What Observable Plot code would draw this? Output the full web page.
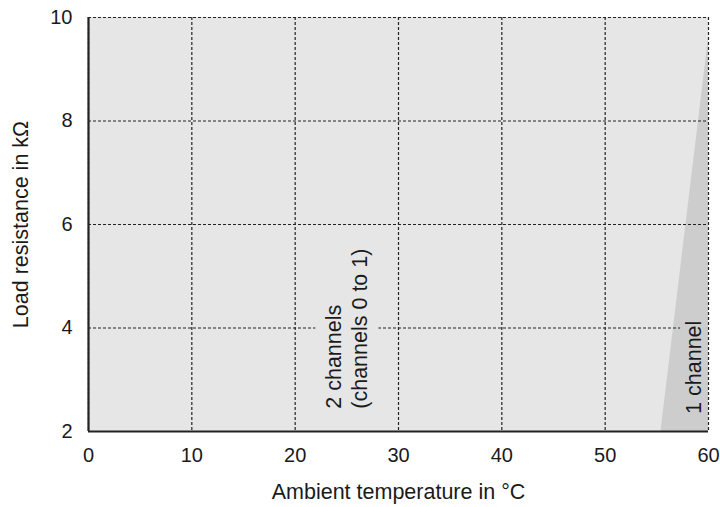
<!DOCTYPE html>
<html>
<head>
<meta charset="utf-8">
<script src="https://cdn.jsdelivr.net/npm/d3@7"></script>
<script src="https://cdn.jsdelivr.net/npm/@observablehq/plot@0.6"></script>
<style>
  html, body { margin: 0; padding: 0; background: #fff; }
  svg { font-family: "Liberation Sans", Arial, sans-serif; }
</style>
</head>
<body>
<div id="chart"></div>
<script>
const xTicks = [0, 10, 20, 30, 40, 50, 60];
const yTicks = [2, 4, 6, 8, 10];
const xLabel = "Ambient temperature in °C";
const yLabel = "Load resistance in kΩ";

// Operating region for 2 channels (whole plot area)
const twoChannelRegion = [{x1: 0, x2: 60, y1: 2, y2: 10}];
// Boundary of the 1-channel-only region (temperature, resistance)
const oneChannelX = [55.4, 60];
const oneChannelY = [2, 9.6];
const oneChannelArea = oneChannelX.map((x, i) => ({x, y1: 2, y2: oneChannelY[i]}));

const labels = [
  {x: 24.9, y: 2.44, text: "2 channels\n(channels 0 to 1)"},
  {x: 58.5, y: 2.34, text: "1 channel"}
];
const labelBoxes = [
  {x1: 22, x2: 28.1, y1: 3.8, y2: 4.2, fill: "#e6e6e6"},
  {x1: 57.3, x2: 59.8, y1: 3.8, y2: 4.2, fill: "#cdcdcd"}
];

const chart = Plot.plot({
  width: 720,
  height: 507,
  marginLeft: 88,
  marginRight: 12,
  marginTop: 17,
  marginBottom: 76,
  style: {fontSize: "20px", fontFamily: "Liberation Sans, Arial, sans-serif", color: "#1a1a1a", background: "#fff"},
  x: {domain: [0, 60]},
  y: {domain: [2, 10]},
  marks: [
    Plot.rect(twoChannelRegion, {x1: "x1", x2: "x2", y1: "y1", y2: "y2", fill: "#e6e6e6"}),
    Plot.areaY(oneChannelArea, {x: "x", y1: "y1", y2: "y2", fill: "#cdcdcd"}),
    Plot.ruleX(xTicks, {stroke: "#222", strokeWidth: 1.2, strokeDasharray: "3,2"}),
    Plot.ruleY(yTicks, {stroke: "#222", strokeWidth: 1.2, strokeDasharray: "3,2"}),
    Plot.rect(labelBoxes, {x1: "x1", x2: "x2", y1: "y1", y2: "y2", fill: d => d.fill}),
    Plot.text(labels, {x: "x", y: "y", text: "text", rotate: -90, fontSize: 21.5, fill: "#1a1a1a", lineHeight: 1.2, textAnchor: "start"}),
    Plot.ruleX([0], {stroke: "#222", strokeWidth: 2.2}),
    Plot.ruleY([2], {stroke: "#222", strokeWidth: 2.2}),
    Plot.axisX({ticks: xTicks, tickSize: 0, tickPadding: 16, fontSize: 20, label: null}),
    Plot.axisY({ticks: yTicks, tickSize: 0, tickPadding: 16, fontSize: 20, label: null}),
    Plot.axisX({ticks: [], tickSize: 0, fontSize: 21.5, label: xLabel, labelAnchor: "center", labelArrow: "none", labelOffset: 67}),
    Plot.axisY({ticks: [], tickSize: 0, fontSize: 21.5, label: yLabel, labelAnchor: "center", labelArrow: "none", labelOffset: 76})
  ]
});
document.getElementById("chart").appendChild(chart);
</script>
</body>
</html>
